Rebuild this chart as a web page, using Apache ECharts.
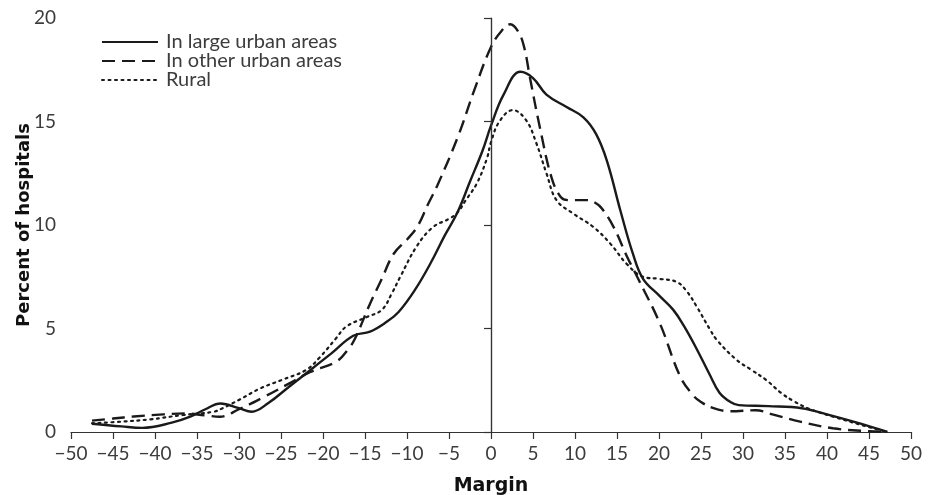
<!DOCTYPE html>
<html>
<head>
<meta charset="utf-8">
<script src="https://cdn.jsdelivr.net/npm/echarts@6/dist/echarts.min.js"></script>
<style>
  html, body { margin: 0; padding: 0; background: #fff; }
  #chart { width: 929px; height: 495px; }
</style>
</head>
<body>
<div id="chart"></div>
<script>
// share of hospitals by margin, three locality groups
var seriesNames = ['In large urban areas', 'In other urban areas', 'Rural'];

var largeUrban = [
  [-47.5, 0.4], [-44, 0.27], [-41.5, 0.2], [-38, 0.45], [-35.8, 0.74], [-34, 1.1], [-32.2, 1.38],
  [-30, 1.15], [-28.5, 0.98], [-26.5, 1.4], [-24, 2.2], [-21.8, 2.9], [-19, 3.8], [-16.4, 4.65],
  [-14.4, 4.85], [-12.5, 5.3], [-11, 5.8], [-9, 6.9], [-7.2, 8.15], [-5.5, 9.5], [-4, 10.6],
  [-2.5, 12.1], [-1, 13.6], [0, 14.8], [1.5, 16.3], [3.5, 17.4], [5, 17.1], [6.6, 16.3],
  [9, 15.7], [11, 15.2], [12.5, 14.4], [13.8, 13.1], [15.4, 10.7], [16.9, 8.6], [18.1, 7.4],
  [20, 6.6], [21.7, 5.9], [23, 5.1], [24.5, 4.0], [26, 2.8], [27.2, 1.9], [28.5, 1.45],
  [29.5, 1.3], [33, 1.25], [37, 1.15], [40, 0.85], [44, 0.4], [47.2, 0]
];

var otherUrban = [
  [-47.5, 0.55], [-45, 0.65], [-42.5, 0.75], [-39, 0.85], [-36.5, 0.9], [-34, 0.8], [-32.3, 0.74],
  [-30, 1.1], [-27, 1.7], [-24, 2.35], [-21.5, 2.9], [-18.4, 3.4], [-17, 4.0], [-16.2, 4.5],
  [-14.4, 6.2], [-13, 7.4], [-11.6, 8.6], [-10, 9.3], [-8.8, 9.9], [-7.5, 11], [-6.4, 11.9],
  [-4, 14.2], [-2, 16.5], [0, 18.6], [1.3, 19.4], [2.3, 19.7], [3.3, 19.3], [4.0, 18.5],
  [4.6, 17.2], [5.8, 14.75], [7.2, 12.3], [8.3, 11.35], [9.2, 11.2], [11.5, 11.2], [12.5, 11.05],
  [13.2, 10.8], [14.6, 9.9], [16.2, 8.47], [17.4, 7.5], [20.1, 5.25], [22.5, 2.7], [24, 1.8],
  [25, 1.45], [26.5, 1.15], [28.5, 1.0], [31.5, 1.05], [33.5, 0.85], [36.8, 0.5], [40.7, 0.18],
  [44, 0.06], [47.1, 0]
];

var rural = [
  [-47.5, 0.42], [-44, 0.5], [-40.6, 0.61], [-36.7, 0.82], [-33, 0.98], [-32, 1.14], [-30, 1.55],
  [-27.5, 2.1], [-25, 2.5], [-22, 3.0], [-20.4, 3.6], [-18.5, 4.5], [-17.2, 5.1], [-14.8, 5.55],
  [-13, 5.9], [-11.8, 6.7], [-10.8, 7.5], [-8.8, 9.0], [-6.9, 9.9], [-5, 10.3], [-4, 10.6],
  [-3, 11.2], [-1.7, 12.0], [-0.5, 13.2], [0, 14.0], [1, 15.0], [2.6, 15.55], [4.2, 15.05],
  [5.4, 13.95], [6.6, 12.5], [7.8, 11.2], [9.8, 10.55], [12.2, 9.9], [14.2, 9.1], [16.2, 8.1],
  [18.1, 7.5], [20, 7.4], [22.1, 7.25], [23.3, 6.8], [24.5, 6.05], [26, 5.0], [26.9, 4.44],
  [29.25, 3.48], [31, 3.0], [32.8, 2.5], [34.5, 1.9], [36, 1.5], [38, 1.1], [40.75, 0.74],
  [44, 0.35], [46.7, 0.05]
];

var xTicks = { min: -50, max: 50, step: 5 };
var yTicks = { min: 0, max: 20, step: 5 };

var lineColor = '#1a1a1a';
var textColor = '#3c3c3c';
var fontFamily = 'Lato, "Open Sans", sans-serif';
var titleFont = '"DejaVu Sans", sans-serif';

var dom = document.getElementById('chart');
var myChart = echarts.init(dom, null, { renderer: 'canvas' });

var option = {
  animation: false,
  backgroundColor: '#fff',
  textStyle: { fontFamily: fontFamily },
  grid: {
    left: 71,
    right: 18,
    top: 18,
    bottom: 63,
    outerBoundsMode: 'none'
  },
  legend: {
    data: seriesNames,
    orient: 'vertical',
    left: 101,
    top: 32,
    padding: 0,
    itemWidth: 56,
    itemHeight: 14,
    itemGap: -1,
    selectedMode: false,
    // hide the little marker, keep only the line sample
    itemStyle: { color: 'transparent', borderColor: 'transparent', borderWidth: 0 },
    textStyle: { fontSize: 20, lineHeight: 18, color: textColor, fontFamily: fontFamily, padding: [0, 0, 0, 3] }
  },
  xAxis: {
    type: 'value',
    min: xTicks.min,
    max: xTicks.max,
    interval: xTicks.step,
    name: 'Margin',
    nameLocation: 'middle',
    nameGap: 45,
    nameMoveOverlap: false,
    nameTextStyle: { fontSize: 19, fontWeight: 'bold', color: '#111', fontFamily: titleFont },
    axisLine: { show: true, onZero: false, lineStyle: { color: '#333', width: 1.2 } },
    axisTick: { show: true, length: 7, lineStyle: { color: '#333', width: 1.2 } },
    axisLabel: {
      fontSize: 19,
      color: textColor,
      margin: 12,
      formatter: function (value) {
        return String(value).replace('-', '\u2212');
      }
    },
    splitLine: { show: false }
  },
  yAxis: {
    type: 'value',
    min: yTicks.min,
    max: yTicks.max,
    interval: yTicks.step,
    name: 'Percent of hospitals',
    nameLocation: 'middle',
    nameGap: 38,
    nameMoveOverlap: false,
    nameTextStyle: { fontSize: 18, fontWeight: 'bold', color: '#111', fontFamily: titleFont },
    axisLine: { show: true, lineStyle: { color: '#333', width: 1.2 } },
    axisTick: { show: true, length: 7, lineStyle: { color: '#333', width: 1.2 } },
    axisLabel: { fontSize: 19, color: textColor, margin: 15 },
    splitLine: { show: false }
  },
  series: [
    {
      name: seriesNames[0],
      type: 'line',
      data: largeUrban,
      smooth: 0.4,
      symbol: 'none',
      itemStyle: { color: lineColor },
      lineStyle: { color: lineColor, width: 2.4, type: 'solid' },
      markLine: {
        silent: true,
        symbol: ['none', 'none'],
        label: { show: false },
        lineStyle: { color: '#333', width: 1.2, type: 'solid' },
        data: [{ xAxis: 0 }]
      },
      z: 3
    },
    {
      name: seriesNames[1],
      type: 'line',
      data: otherUrban,
      smooth: 0.4,
      symbol: 'none',
      itemStyle: { color: lineColor },
      lineStyle: { color: lineColor, width: 2.4, type: [13, 7] },
      z: 2
    },
    {
      name: seriesNames[2],
      type: 'line',
      data: rural,
      smooth: 0.4,
      symbol: 'none',
      itemStyle: { color: lineColor },
      lineStyle: { color: lineColor, width: 2.2, type: [2, 4.5], cap: 'round' },
      z: 1
    }
  ]
};

if (option && typeof option === 'object') {
  myChart.setOption(option);
}

window.addEventListener('resize', myChart.resize);
</script>
</body>
</html>
